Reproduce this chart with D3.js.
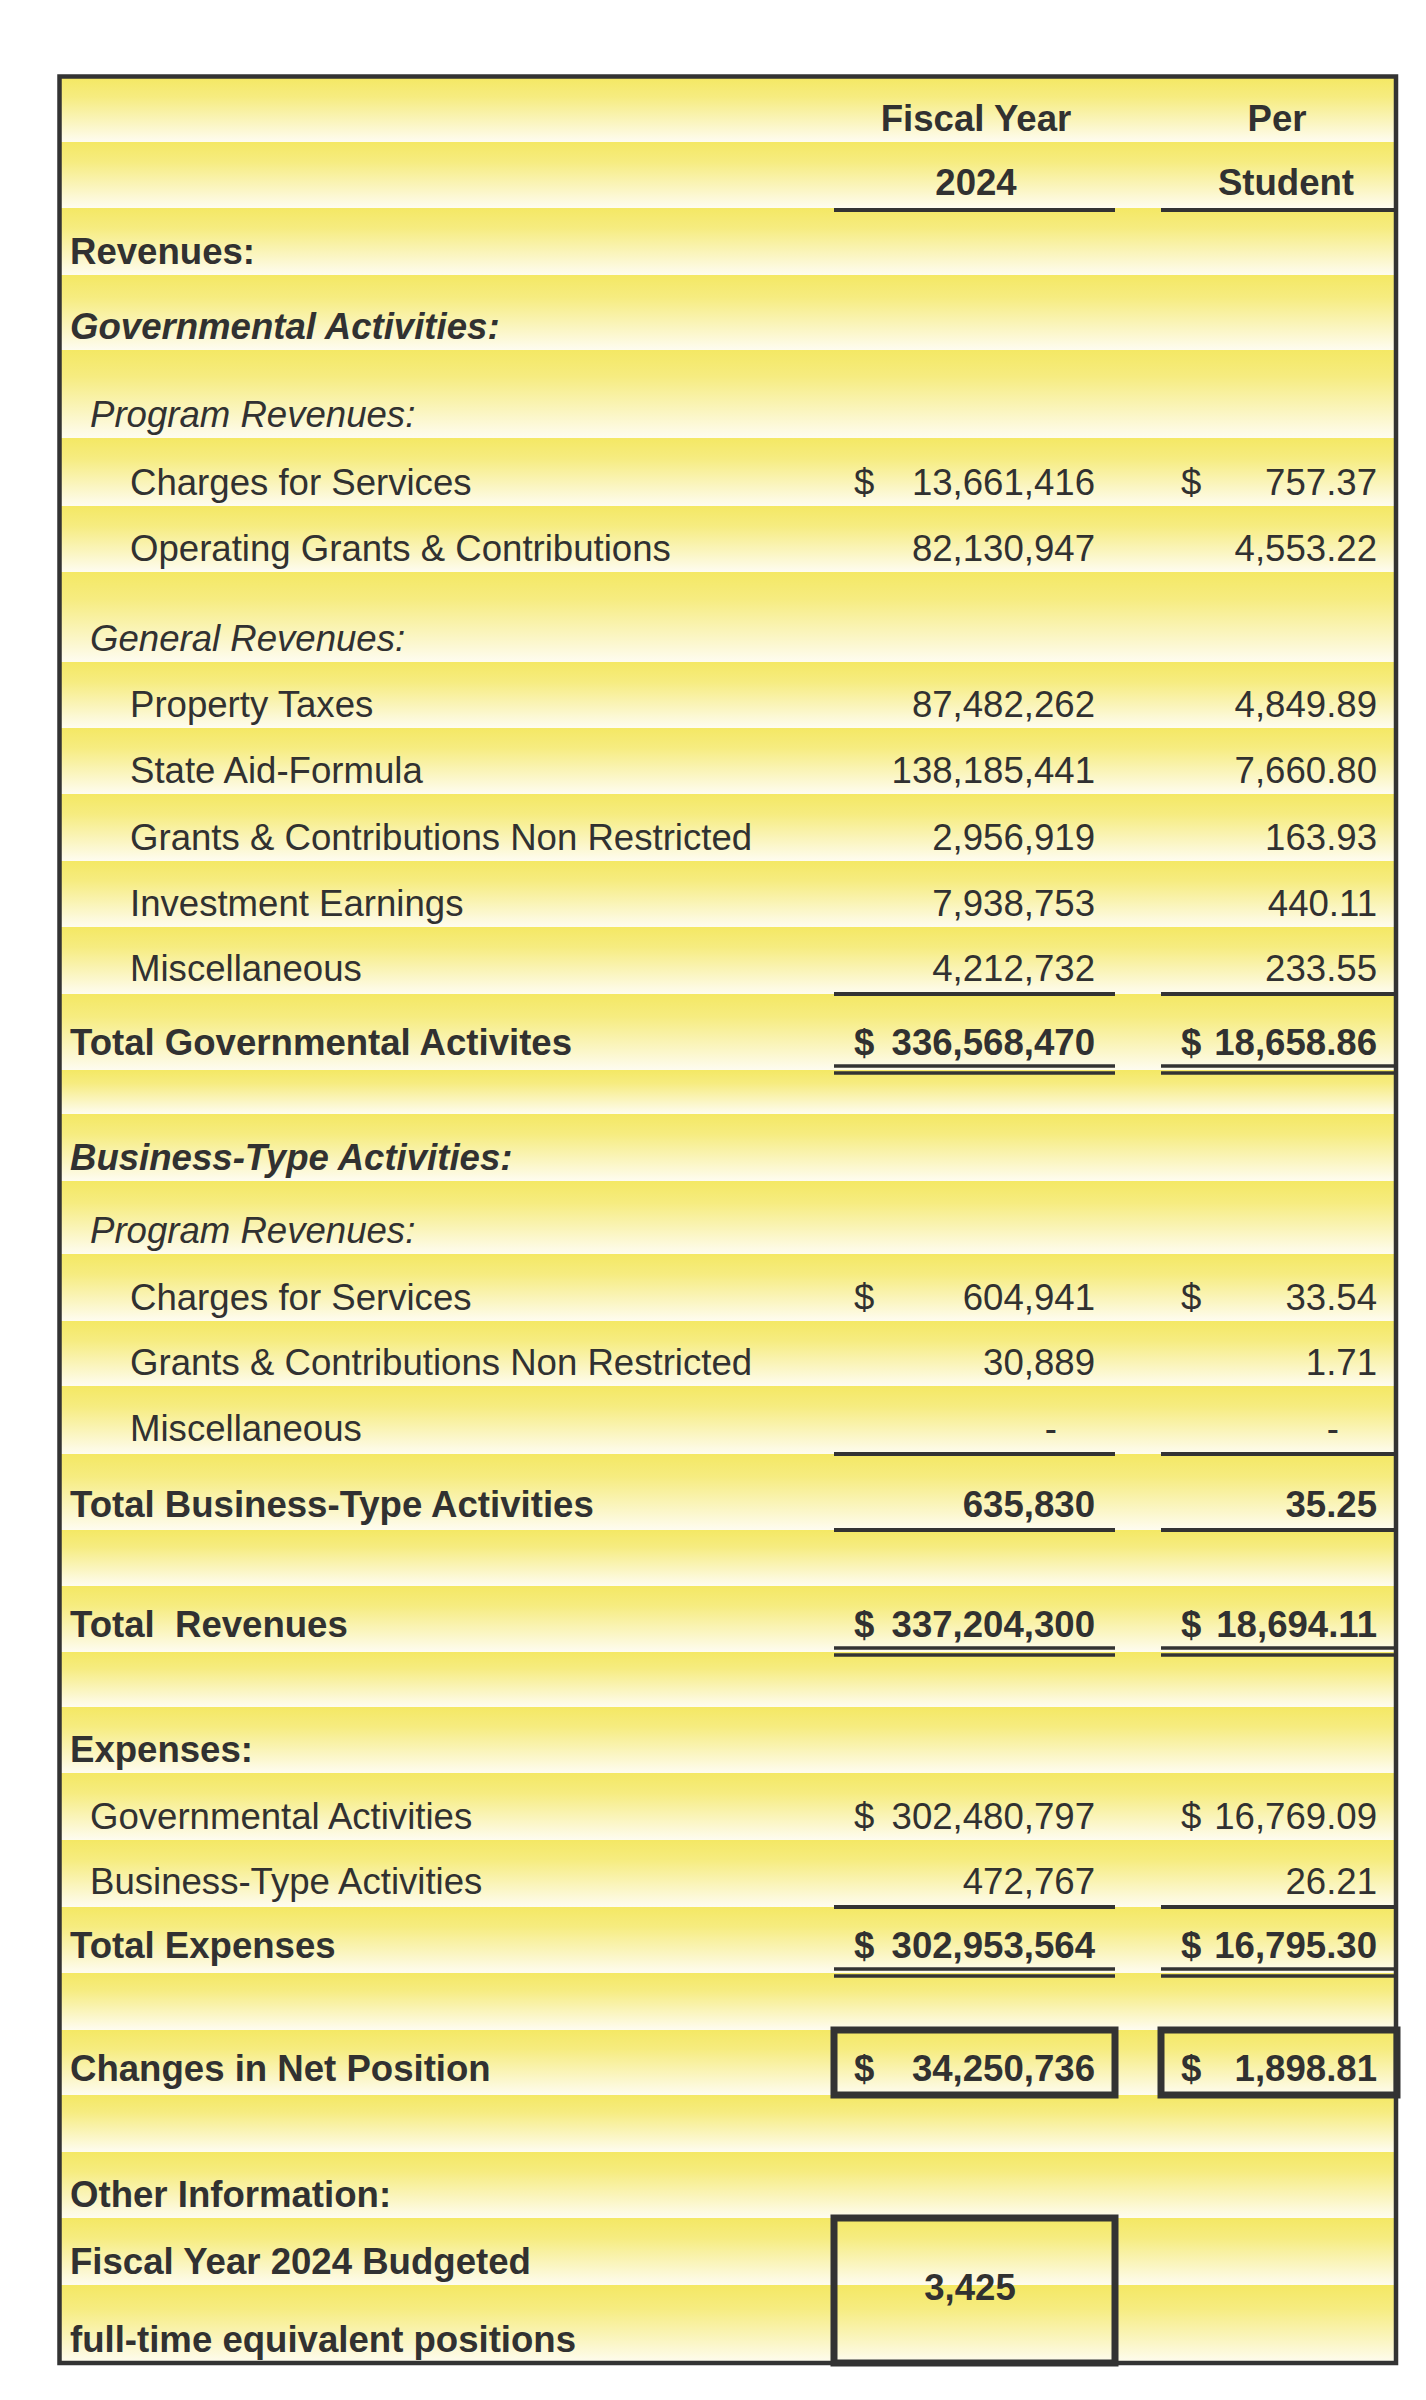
<!DOCTYPE html>
<html>
<head>
<meta charset="utf-8">
<script src="https://cdn.jsdelivr.net/npm/d3@7"></script>
<style>
  html, body { margin: 0; padding: 0; background: #ffffff; }
  svg { display: block; }
  text { font-family: "Liberation Sans", Arial, sans-serif; font-size: 36.6px; fill: #313131; white-space: pre; }
</style>
</head>
<body>
<script>
// ---------------- DATA ----------------
const rowLabels = [
  "", "",
  "Revenues:",
  "Governmental Activities:",
  "Program Revenues:",
  "Charges for Services",
  "Operating Grants & Contributions",
  "General Revenues:",
  "Property Taxes",
  "State Aid-Formula",
  "Grants & Contributions Non Restricted",
  "Investment Earnings",
  "Miscellaneous",
  "Total Governmental Activites",
  "",
  "Business-Type Activities:",
  "Program Revenues:",
  "Charges for Services",
  "Grants & Contributions Non Restricted",
  "Miscellaneous",
  "Total Business-Type Activities",
  "",
  "Total  Revenues",
  "",
  "Expenses:",
  "Governmental Activities",
  "Business-Type Activities",
  "Total Expenses",
  "",
  "Changes in Net Position",
  "",
  "Other Information:",
  "Fiscal Year 2024 Budgeted",
  "full-time equivalent positions"
];
const fiscalYear2024 = [
  null, null, null, null, null,
  13661416, 82130947, null,
  87482262, 138185441, 2956919, 7938753, 4212732,
  336568470, null, null, null,
  604941, 30889, 0, 635830, null,
  337204300, null, null,
  302480797, 472767, 302953564, null,
  34250736, null, null, null, null
];
const perStudent = [
  null, null, null, null, null,
  757.37, 4553.22, null,
  4849.89, 7660.80, 163.93, 440.11, 233.55,
  18658.86, null, null, null,
  33.54, 1.71, 0, 35.25, null,
  18694.11, null, null,
  16769.09, 26.21, 16795.30, null,
  1898.81, null, null, null, null
];
const dollarRows = [5, 13, 17, 22, 25, 27, 29];
const columnHeaders = [["Fiscal Year", "2024"], ["Per", "Student"]];
const fteValue = 3425;

// ---------------- LAYOUT / STYLE ----------------
const W = 1426, H = 2400;
const rowEdges = [78,142,208,275,350,438,506,572,662,728,794,861,927,994,1070,1114,1181,1254,1321,1386,1454,1530,1586,1652,1707,1773,1840,1907,1973,2030,2095,2152,2218,2285,2363];
// indent level: 0 = 70px, 1 = 90px, 2 = 130px ; style: b bold, i italic, bi bold italic, n normal
const rowIndent = [0,0,0,0,1,2,2,1,2,2,2,2,2,0,0,0,1,2,2,2,0,0,0,0,0,1,1,0,0,0,0,0,0,0];
const rowStyle  = ["b","b","b","bi","i","n","n","i","n","n","n","n","n","b","n","bi","i","n","n","n","b","n","b","n","b","n","n","b","n","b","n","b","b","b"];
const singleUnder = [1, 12, 19, 20, 26];
const doubleUnder = [13, 22, 27];
const boxedRows = [29];

const indentX = d3.scaleOrdinal().domain([0,1,2]).range([70, 90, 130]);
const colX = d3.scaleOrdinal().domain(["fy","ps"]).range([[834,1115],[1161,1397]]);
const numRight = { fy: 1095, ps: 1377 };
const dollarLeft = { fy: 854, ps: 1181 };
const headerCenter = [[976, 976], [1277, 1286]];

const rows = rowLabels.map((label, i) => ({
  i, label,
  y0: rowEdges[i], y1: rowEdges[i+1],
  fy: fiscalYear2024[i], ps: perStudent[i],
  style: rowStyle[i], indent: rowIndent[i],
  under: doubleUnder.includes(i) ? "double" : (singleUnder.includes(i) ? "single" : null)
}));
rows.forEach(r => {
  r.base = r.y1 - (r.under === "double" ? 15 : r.under === "single" ? 13 : (boxedRows.includes(r.i) ? 14 : 11));
});

const fmtInt = d3.format(",");
const fmtDec = d3.format(",.2f");

const svg = d3.select("body").append("svg").attr("width", W).attr("height", H);

const defs = svg.append("defs");
const grad = defs.append("linearGradient").attr("id", "stripe")
  .attr("x1", 0).attr("y1", 0).attr("x2", 0).attr("y2", 1);
grad.append("stop").attr("offset", "0%").attr("stop-color", "#F4E864");
grad.append("stop").attr("offset", "30%").attr("stop-color", "#F6EC80");
grad.append("stop").attr("offset", "100%").attr("stop-color", "#FEFCF0");

const boxL = 59.5, boxR = 1396, boxT = 76.5, boxB = 2363;

// stripes
svg.append("g").selectAll("rect").data(rows).join("rect")
  .attr("x", boxL).attr("width", boxR - boxL)
  .attr("y", d => d.y0).attr("height", d => d.y1 - d.y0)
  .attr("fill", "url(#stripe)");

// labels
function styleText(sel) {
  sel.attr("font-weight", d => (d.style === "b" || d.style === "bi") ? "bold" : "normal")
     .attr("font-style", d => (d.style === "i" || d.style === "bi") ? "italic" : "normal");
}
svg.append("g").selectAll("text").data(rows.filter(r => r.label)).join("text")
  .attr("x", d => indentX(d.indent)).attr("y", d => d.base)
  .text(d => d.label).call(styleText);

// column headers
["fy","ps"].forEach((c, ci) => {
  svg.append("g").selectAll("text").data(columnHeaders[ci]).join("text")
    .attr("x", (d, k) => headerCenter[ci][k])
    .attr("y", (d, k) => rows[k].base)
    .attr("text-anchor", "middle").attr("font-weight", "bold")
    .text(d => d);
});

// numbers
["fy","ps"].forEach(c => {
  const fmt = c === "fy" ? fmtInt : fmtDec;
  const g = svg.append("g");
  const valRows = rows.filter(r => r[c] !== null);
  g.selectAll("text.v").data(valRows).join("text").attr("class", "v")
    .attr("x", d => d[c] === 0 ? numRight[c] - 38 : numRight[c])
    .attr("y", d => d.base)
    .attr("text-anchor", "end")
    .text(d => d[c] === 0 ? "-" : fmt(d[c]))
    .call(styleText);
  g.selectAll("text.d").data(valRows.filter(r => dollarRows.includes(r.i))).join("text").attr("class", "d")
    .attr("x", dollarLeft[c]).attr("y", d => d.base)
    .text("$").call(styleText);
});

// underlines
const lineColor = "#333333";
["fy","ps"].forEach(c => {
  const [xa, xb] = colX(c);
  const g = svg.append("g").attr("stroke", lineColor);
  g.selectAll("line.s").data(rows.filter(r => r.under === "single")).join("line").attr("class", "s")
    .attr("x1", xa).attr("x2", xb)
    .attr("y1", d => d.i === 1 ? d.y1 + 2 : d.y1).attr("y2", d => d.i === 1 ? d.y1 + 2 : d.y1)
    .attr("stroke-width", 4);
  const dbl = rows.filter(r => r.under === "double");
  [-4, 3].forEach(off => {
    g.append("g").selectAll("line").data(dbl).join("line")
      .attr("x1", xa).attr("x2", xb)
      .attr("y1", d => d.y1 + off).attr("y2", d => d.y1 + off)
      .attr("stroke-width", 3.5);
  });
  // boxes around "Changes in Net Position"
  g.selectAll("rect.b").data(rows.filter(r => boxedRows.includes(r.i))).join("rect").attr("class", "b")
    .attr("x", xa).attr("width", xb - xa)
    .attr("y", d => d.y0).attr("height", d => d.y1 - d.y0)
    .attr("fill", "none").attr("stroke-width", 7);
});

// FTE box
const [fa, fb] = colX("fy");
svg.append("rect").attr("x", fa).attr("width", fb - fa)
  .attr("y", rowEdges[32]).attr("height", rowEdges[34] - rowEdges[32])
  .attr("fill", "none").attr("stroke", lineColor).attr("stroke-width", 7);
svg.append("text").attr("x", 970).attr("y", 2300)
  .attr("text-anchor", "middle").attr("font-weight", "bold")
  .datum(fteValue).text(d => d3.format(",")(d));

// outer border
svg.append("rect").attr("x", boxL).attr("y", boxT)
  .attr("width", boxR - boxL).attr("height", boxB - boxT)
  .attr("fill", "none").attr("stroke", lineColor).attr("stroke-width", 4.5);
</script>
</body>
</html>
